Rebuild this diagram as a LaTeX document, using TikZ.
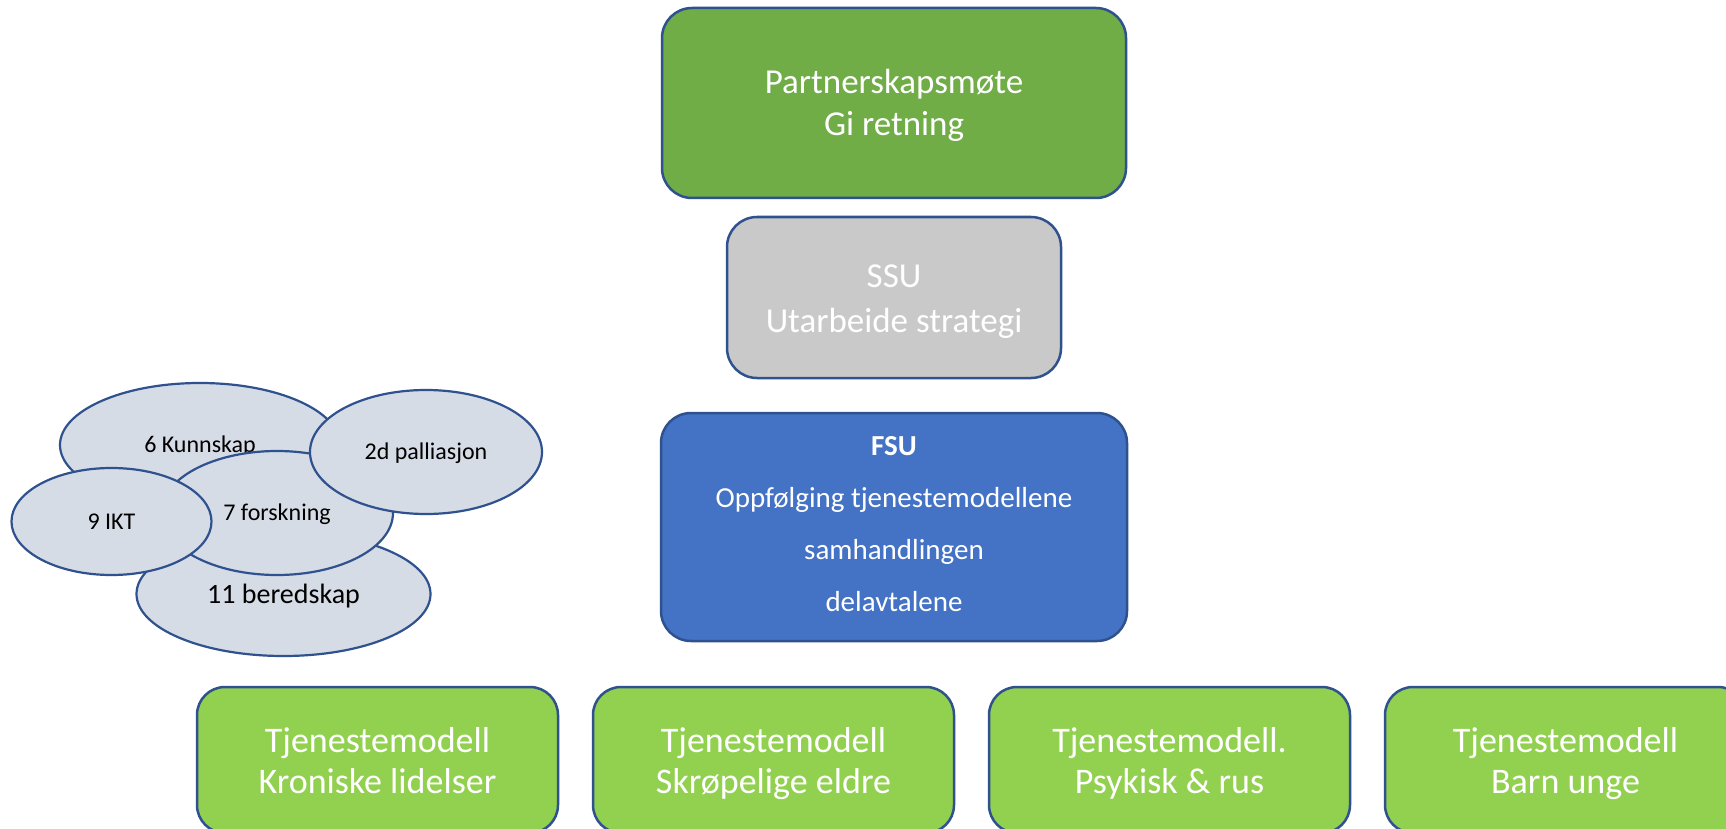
\documentclass[tikz,border=0pt]{standalone}
\usepackage{fontspec}
\setmainfont{Carlito}
\usetikzlibrary{shapes.geometric}
\definecolor{edgeblue}{HTML}{2F528F}
\definecolor{topgreen}{HTML}{70AD47}
\definecolor{ssugray}{HTML}{C9C9C9}
\definecolor{fsublue}{HTML}{4472C4}
\definecolor{lightgreen}{HTML}{92D050}
\definecolor{ovalfill}{HTML}{D6DCE5}
\newcommand\myTop[1]{\rule{0pt}{#1pt}}
\newcommand\myBot{\rule[-10pt]{0pt}{0pt}}
\begin{document}
\begin{tikzpicture}[x=1pt,y=-1pt,
  box/.style={draw=edgeblue, line width=2.5pt, rounded corners=30pt, align=center, text=white, inner sep=0pt},
  tmbox/.style={box, fill=lightgreen, rounded corners=28pt, minimum width=361pt, minimum height=146pt, font=\fontsize{36}{41}\selectfont},
  oval/.style={ellipse, draw=edgeblue, line width=2.2pt, fill=ovalfill, inner sep=0pt, text=black, font=\fontsize{24}{28}\selectfont, text height=15.5pt, text depth=0pt}
]
\useasboundingbox (0,0) rectangle (1726,829);
\clip (0,0) rectangle (1726,829);
\fill[white] (0,0) rectangle (1726,829);

% top column
\node[box, fill=topgreen, minimum width=464pt, minimum height=190pt, font=\fontsize{35}{42}\selectfont] (partner) at (894,103) {\myTop{34}Partnerskapsmøte\\Gi retning\myBot};
\node[box, fill=ssugray, minimum width=334pt, minimum height=161pt, font=\fontsize{35}{45}\selectfont] (ssu) at (894,297.5) {\myTop{34}SSU\\Utarbeide strategi\myBot};
\node[box, fill=fsublue, minimum width=466pt, minimum height=228pt, font=\fontsize{29}{52}\selectfont] (fsu) at (894,527) {\myTop{22}\textbf{FSU}\\Oppfølging tjenestemodellene\\samhandlingen\\delavtalene\myBot};

% bottom row
\node[tmbox] (tm1) at (377.5,760) {\myTop{35}Tjenestemodell\\Kroniske lidelser\myBot};
\node[tmbox] (tm2) at (773.5,760) {\myTop{35}Tjenestemodell\\Skrøpelige eldre\myBot};
\node[tmbox] (tm3) at (1169.5,760) {\myTop{35}Tjenestemodell.\\Psykisk \& rus\myBot};
\node[tmbox] (tm4) at (1565.5,760) {\myTop{35}Tjenestemodell\\Barn unge\myBot};

% ellipses
\node[oval, minimum width=280pt, minimum height=124pt] (k6) at (200,445) {6 Kunnskap};
\node[oval, minimum width=294pt, minimum height=124pt, font=\fontsize{28}{32}\selectfont, text height=18pt] (k11) at (283.5,594) {11 beredskap};
\node[oval, minimum width=232pt, minimum height=124pt] (k7) at (277,513) {7 forskning};
\node[oval, minimum width=200pt, minimum height=107pt] (k9) at (111.5,521.5) {9 IKT};
\node[oval, minimum width=232pt, minimum height=124pt] (k2d) at (426,452) {2d palliasjon};
\end{tikzpicture}
\end{document}
